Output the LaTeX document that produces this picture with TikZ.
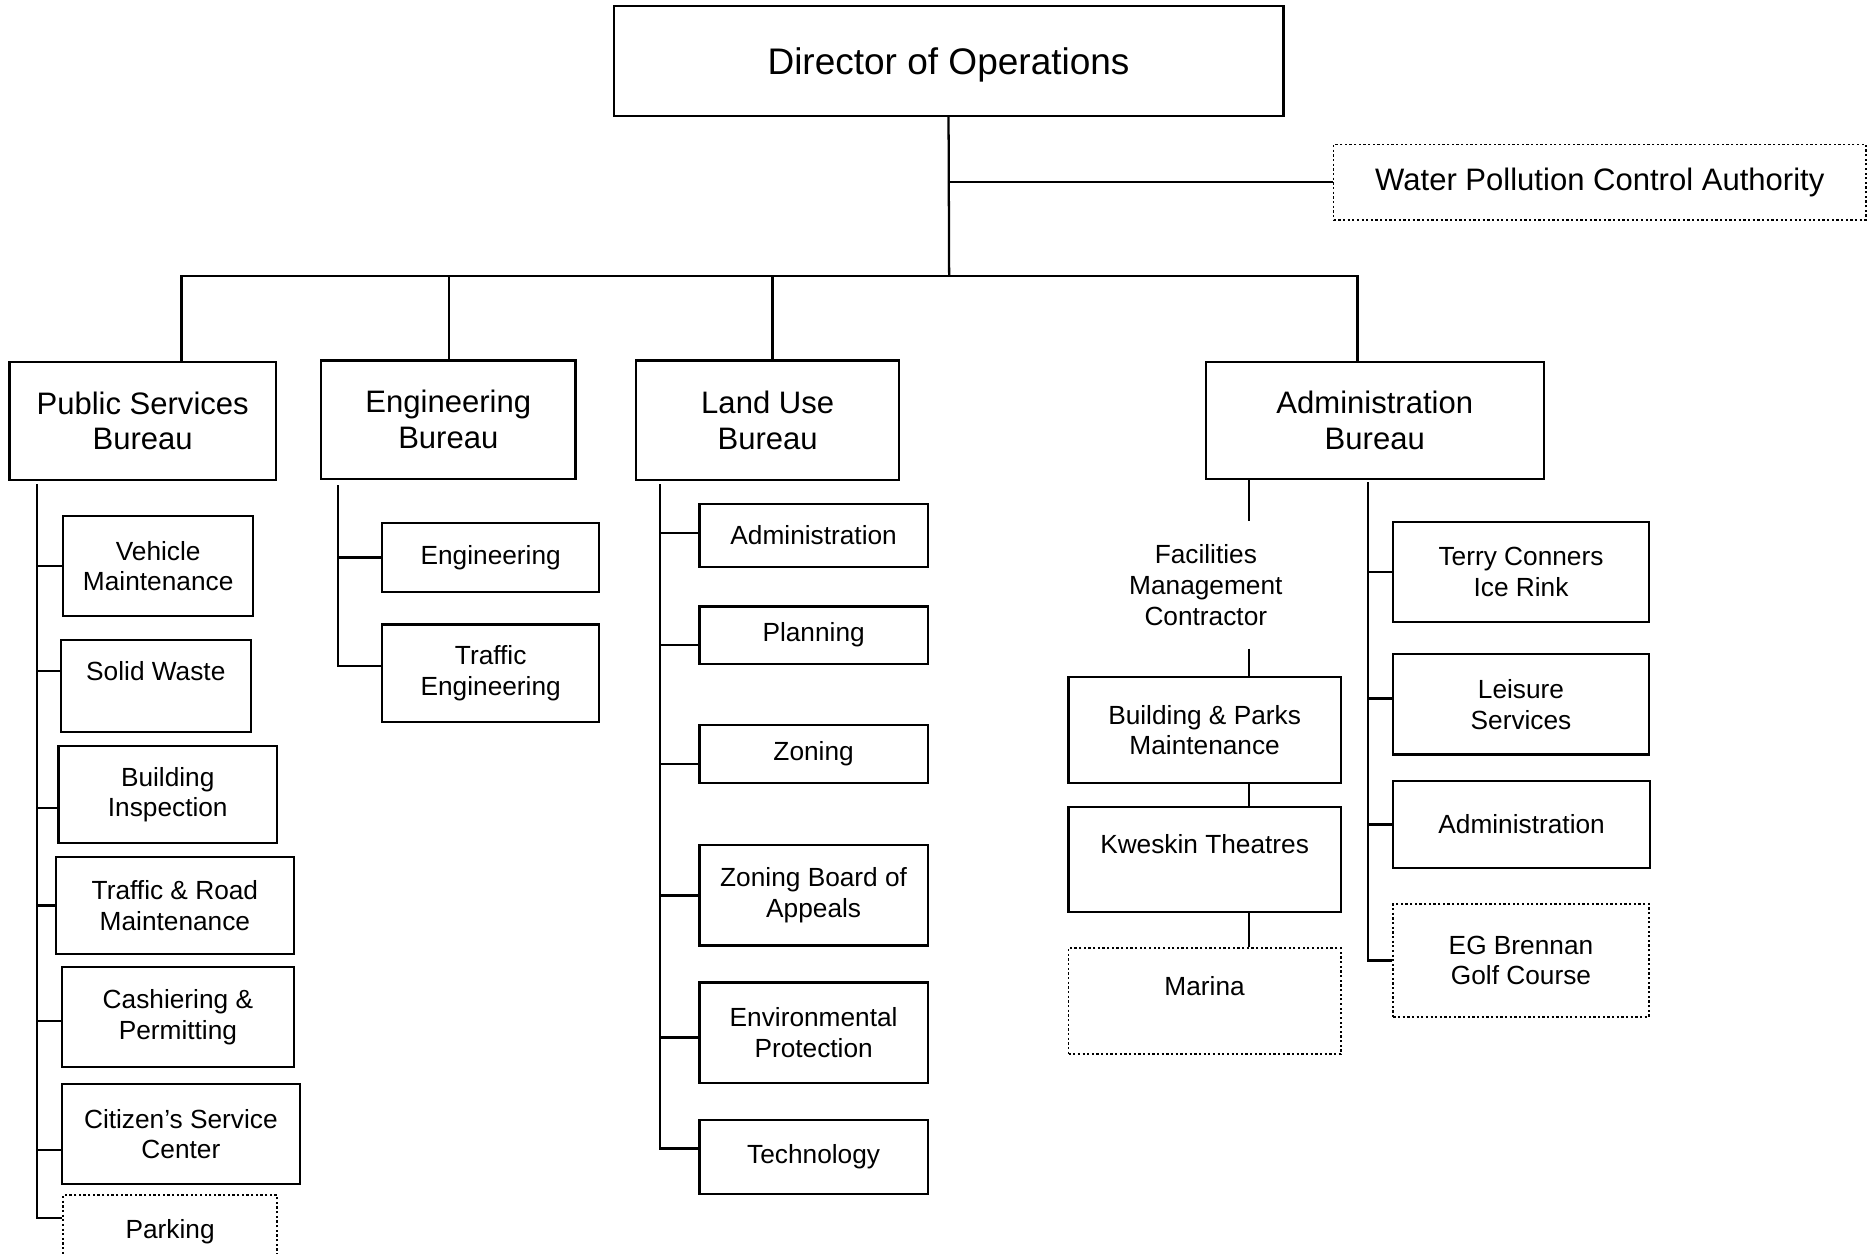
\documentclass[tikz,border=0pt]{standalone}
\usepackage{fontspec}
\setmainfont{Liberation Sans}
\usetikzlibrary{positioning}

\begin{document}
\begin{tikzpicture}[x=1pt,y=-1pt,
  box/.style={draw,line width=1.9pt,align=center,inner sep=2pt,font=\fontsize{22}{25.5}\selectfont},
  dotbox/.style={box,dotted,line width=1.4pt},
  bigbox/.style={box,font=\fontsize{26}{30}\selectfont},
  link/.style={line width=1.9pt}]
  \useasboundingbox (0,0) rectangle (1568,1050);

  % top
  \node[bigbox,font=\fontsize{31}{35}\selectfont,text depth=0pt,minimum width=561pt,minimum height=92pt] (dir) at (794.5,51) {Director of Operations};
  \node[bigbox,dotted,line width=1.4pt,minimum width=446pt,minimum height=63pt] (wpca) at (1340,152.5) {Water Pollution Control Authority};
  \coordinate (bus) at (795,231);
  \draw[link] (dir.south) -- (bus);
  \draw[link] (dir.south |- wpca.west) -- (wpca.west);

  % bureaus
  \node[bigbox,minimum width=223pt,minimum height=99pt] (psb) at (119.5,352.5) {Public Services\\Bureau};
  \node[bigbox,minimum width=213pt,minimum height=99pt] (eb) at (375.5,351.5) {Engineering\\Bureau};
  \node[bigbox,minimum width=220pt,minimum height=100pt] (lub) at (643,352) {Land Use\\Bureau};
  \node[bigbox,minimum width=283pt,minimum height=98pt] (adb) at (1151.5,352) {Administration\\Bureau};
  \foreach \b/\s in {psb/32.5,eb/0.5,lub/4,adb/-14.5}
    \draw[link] ([xshift=\s pt]\b.north) |- (bus);

  % public services
  \node[box,minimum width=159pt,minimum height=84pt] (veh) at (132.5,474) {Vehicle\\Maintenance};
  \node[box,minimum width=159pt,minimum height=77pt] (sw) at (130.5,574.5) {Solid Waste\\ };
  \node[box,minimum width=183pt,minimum height=81pt] (bi) at (140.5,665.5) {Building\\Inspection};
  \node[box,minimum width=199pt,minimum height=81pt] (trm) at (146.5,758.5) {Traffic \& Road\\Maintenance};
  \node[box,minimum width=194pt,minimum height=84pt] (cp) at (149,852) {Cashiering \&\\Permitting};
  \node[box,minimum width=199pt,minimum height=84pt] (csc) at (151.5,950) {Citizen’s Service\\Center};
  \node[dotbox,minimum width=179pt,minimum height=82pt] (park) at (142.5,1042) {Parking\\ };
  \coordinate (pst) at (31,405);
  \foreach \n/\s in {veh/0,sw/12.5,bi/-11.5,trm/0,cp/-3,csc/-13,park/22}
    \draw[link] ([yshift=\s pt]\n.west) -| (pst);

  % engineering
  \node[box,minimum width=182pt,minimum height=58pt] (eng) at (411,467) {Engineering};
  \node[box,minimum width=182pt,minimum height=82pt] (tre) at (411,564) {Traffic\\Engineering};
  \coordinate (ebt) at (283,406);
  \foreach \n/\s in {eng/0,tre/6}
    \draw[link] ([yshift=\s pt]\n.west) -| (ebt);

  % land use
  \node[box,minimum width=191pt,minimum height=53pt] (lad) at (681.5,448.5) {Administration};
  \node[box,minimum width=191pt,minimum height=48pt] (pla) at (681.5,532) {Planning};
  \node[box,minimum width=191pt,minimum height=49pt] (zon) at (681.5,631.5) {Zoning};
  \node[box,minimum width=191pt,minimum height=84pt] (zba) at (681.5,750) {Zoning Board of\\Appeals};
  \node[box,minimum width=191pt,minimum height=84pt] (env) at (681.5,865) {Environmental\\Protection};
  \node[box,minimum width=191pt,minimum height=62pt] (tec) at (681.5,969) {Technology};
  \coordinate (lut) at (553,405);
  \foreach \n/\s in {lad/2,pla/-8,zon/-8.5,zba/0,env/-4,tec/7}
    \draw[link] ([yshift=\s pt]\n.west) -| (lut);

  % administration
  \node[align=center,font=\fontsize{22}{26}\selectfont,minimum height=106pt] (fmc) at (1010,490) {Facilities\\Management\\Contractor};
  \node[box,minimum width=228pt,minimum height=89pt] (bpm) at (1009,611.5) {Building \& Parks\\Maintenance};
  \node[box,minimum width=228pt,minimum height=88pt] (kwe) at (1009,720) {Kweskin Theatres\\ };
  \node[dotbox,minimum width=228pt,minimum height=89pt] (mar) at (1009,838.5) {Marina\\ };
  \coordinate (fx) at (1046,0);
  \draw[link] (adb.south -| fx) -- (fmc.north -| fx);
  \draw[link] (fmc.south -| fx) -- (bpm.north -| fx);
  \draw[link] (bpm.south -| fx) -- (kwe.north -| fx);
  \draw[link] (kwe.south -| fx) -- (mar.north -| fx);

  \node[box,minimum width=214pt,minimum height=84pt] (tcr) at (1274,479) {Terry Conners\\Ice Rink};
  \node[box,minimum width=214pt,minimum height=84pt] (lei) at (1274,590) {Leisure\\Services};
  \node[box,minimum width=215pt,minimum height=73pt] (rad) at (1274.5,690.5) {Administration};
  \node[dotbox,minimum width=214pt,minimum height=95pt] (egb) at (1274,804.5) {EG Brennan\\Golf Course};
  \coordinate (adt) at (1146,404);
  \foreach \n/\s in {tcr/0,lei/5,rad/0,egb/0}
    \draw[link] ([yshift=\s pt]\n.west) -| (adt);
\end{tikzpicture}
\end{document}
